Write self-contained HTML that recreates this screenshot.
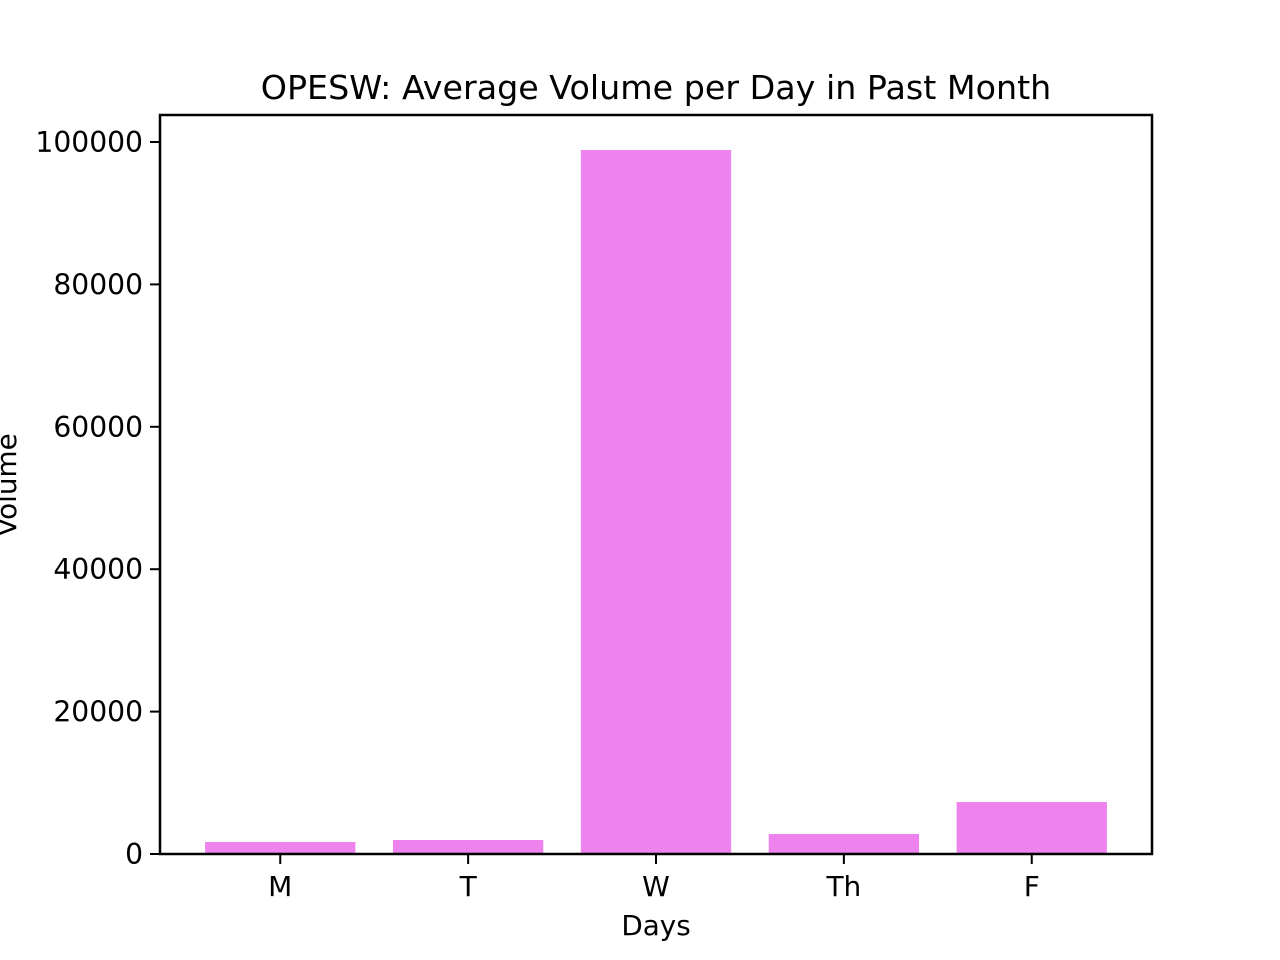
<!DOCTYPE html>
<html><head><meta charset="utf-8"><style>
html,body{margin:0;padding:0;background:#fff;}
svg{display:block;font-family:"DejaVu Sans","Liberation Sans",sans-serif;}
</style></head><body>
<svg id="chart" width="1280" height="960" viewBox="0 0 1280 960">
<rect width="1280" height="960" fill="#fff"/>
<text x="656" y="99" font-size="33.3" text-anchor="middle">OPESW: Average Volume per Day in Past Month</text>
<g id="bars"></g>
<g id="axes"></g>
<rect x="160" y="115" width="992" height="739" fill="none" stroke="#000" stroke-width="2.5"/>
<text x="656" y="935" font-size="27.8" text-anchor="middle">Days</text>
<text transform="translate(16,485) rotate(-90)" font-size="27.8" text-anchor="middle">Volume</text>
</svg>
<script>
const categories = ["M","T","W","Th","F"];
const volumes = [1690, 1970, 98870, 2810, 7300];
const yTicks = [0, 20000, 40000, 60000, 80000, 100000];
const yTickLabels = ["0","20000","40000","60000","80000","100000"];

const NS = "http://www.w3.org/2000/svg";
const L=160, R=1152, T=115, B=854;
const xmin=-0.64, xmax=4.64;
function xs(i){return L+(i-xmin)/(xmax-xmin)*(R-L);}
function ys(v){return B-v/100000*712;}
const bw = 0.8*(R-L)/(xmax-xmin);
const bars=document.getElementById('bars'), axes=document.getElementById('axes');
function mk(tag,attrs,parent){const e=document.createElementNS(NS,tag);for(const k in attrs)e.setAttribute(k,attrs[k]);parent.appendChild(e);return e;}
categories.forEach((c,i)=>{
  const r=mk('rect',{x:xs(i)-bw/2,y:ys(volumes[i]),width:bw,height:B-ys(volumes[i]),fill:'#ee82ee'},bars);
  
  
  const t=mk('line',{x1:xs(i),x2:xs(i),y1:B,y2:B+10,stroke:'#000','stroke-width':2},axes);
  
  
  const lb=mk('text',{x:xs(i),y:B+42,'font-size':28,'text-anchor':'middle'},axes);
  lb.textContent=c;
  
  
});
yTicks.forEach((v,i)=>{
  const t=mk('line',{x1:L-10,x2:L,y1:ys(v),y2:ys(v),stroke:'#000','stroke-width':2},axes);
  
  
  const lb=mk('text',{x:L-17,y:ys(v)+10,'font-size':28.2,'text-anchor':'end'},axes);
  lb.textContent=yTickLabels[i];
  
  
});
</script>
</body></html>
